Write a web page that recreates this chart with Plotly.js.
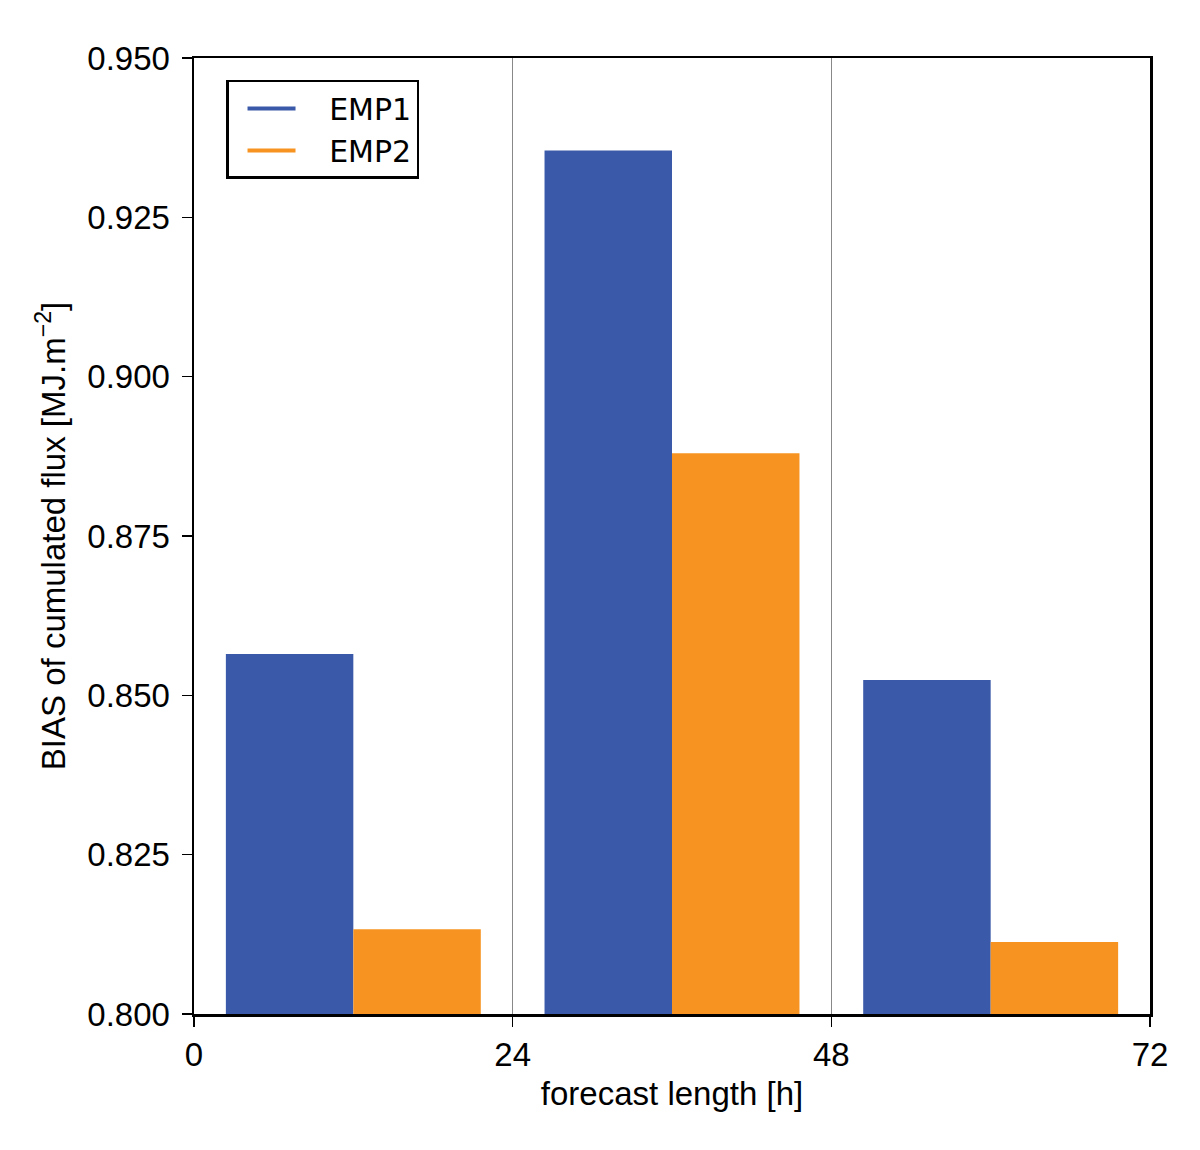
<!DOCTYPE html>
<html>
<head>
<meta charset="utf-8">
<script src="https://cdn.plot.ly/plotly-3.0.1.min.js"></script>
<style>
  body { margin: 0; background: #fff; }
  #chart { width: 1200px; height: 1150px; }
</style>
</head>
<body>
<div id="chart"></div>
<script>
// forecast length group centres [h]
const LEADS = [12, 36, 60];
const EMP1 = [0.8565, 0.9355, 0.8524];
const EMP2 = [0.8133, 0.8880, 0.8113];
const X_TICKS = [0, 24, 48, 72];
const Y_TICKS = [0.8, 0.825, 0.85, 0.875, 0.9, 0.925, 0.95];

const BLUE = '#3a59a8';
const ORANGE = '#f79421';

function barTrace(name, vals, color) {
  return {
    type: 'bar',
    name: name,
    x: LEADS,
    y: vals.map((v) => v - 0.8),
    base: 0.8,
    marker: { color: color, line: { width: 0 } },
    showlegend: false,
    hoverinfo: 'skip',
  };
}

// legend keys drawn as lines like in the original
function legendKey(name, color) {
  return {
    type: 'scatter',
    mode: 'lines',
    name: '\u00a0\u00a0\u00a0' + name,
    x: [null],
    y: [null],
    line: { color: color, width: 4 },
  };
}

const data = [
  barTrace('EMP1', EMP1, BLUE),
  barTrace('EMP2', EMP2, ORANGE),
  legendKey('EMP1', BLUE),
  legendKey('EMP2', ORANGE),
];

const layout = {
  width: 1200,
  height: 1150,
  margin: { l: 194, r: 50, t: 58, b: 136 },
  paper_bgcolor: '#fff',
  plot_bgcolor: '#fff',
  barmode: 'group',
  bargap: 0.2,
  bargroupgap: 0,
  font: { family: 'Liberation Sans, Arial, sans-serif', size: 32, color: '#000' },
  xaxis: {
    range: [0, 72],
    tickvals: X_TICKS,
    ticktext: X_TICKS.map(String),
    ticks: 'outside',
    ticklen: 10,
    tickwidth: 1.5,
    tickcolor: '#000',
    tickfont: { size: 33 },
    showgrid: true,
    gridcolor: '#888',
    gridwidth: 1,
    zeroline: false,
    showline: true,
    linecolor: '#000',
    linewidth: 2.5,
    mirror: true,
    title: { text: 'forecast length [h]', font: { size: 33 }, standoff: 10 },
  },
  yaxis: {
    range: [0.8, 0.95],
    tickvals: Y_TICKS,
    tickformat: '.3f',
    ticks: 'outside',
    ticklen: 10,
    tickwidth: 1.5,
    tickcolor: '#000',
    tickfont: { size: 33 },
    ticklabelstandoff: 5,
    showgrid: false,
    zeroline: false,
    showline: true,
    linecolor: '#000',
    linewidth: 2.5,
    mirror: true,
    title: { text: 'BIAS of cumulated flux [MJ.m<sup>−2</sup>]', font: { size: 33 }, standoff: 12 },
  },
  legend: {
    x: 0.0335,
    y: 0.977,
    xanchor: 'left',
    yanchor: 'top',
    bgcolor: '#fff',
    bordercolor: '#000',
    borderwidth: 2.5,
    font: { family: 'DejaVu Sans, sans-serif', size: 30 },
    itemwidth: 48,
    indentation: 14,
    tracegroupgap: 6,
  },
};

Plotly.newPlot('chart', data, layout, { displayModeBar: false, staticPlot: true });
</script>
</body>
</html>
